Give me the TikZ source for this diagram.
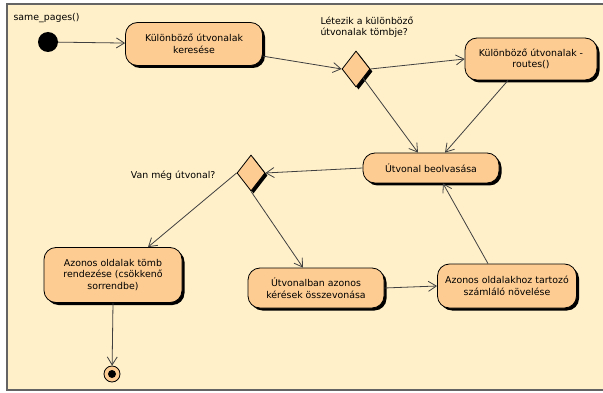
\documentclass[tikz,border=0pt]{standalone}
\usepackage{fontspec}
\setmainfont{DejaVu Sans}
\usetikzlibrary{positioning}
\usetikzlibrary{arrows.meta}
\usetikzlibrary{shapes.geometric}
\usetikzlibrary{shadows}
\definecolor{bg}{RGB}{255,240,201}
\definecolor{act}{RGB}{253,204,146}
\definecolor{frame}{RGB}{100,100,100}

\begin{document}
\begin{tikzpicture}[x=1pt, y=-1pt,
    every node/.style={font=\fontsize{9.4}{11.5}\selectfont},
    shade/.style={drop shadow={shadow xshift=2.5pt, shadow yshift=-2.5pt, fill=black, opacity=1}},
    action/.style={draw=black, line width=0.8pt, fill=act, rounded corners=12pt, align=center, inner sep=2pt, shade},
    decision/.style={diamond, draw=black, line width=0.8pt, fill=act, minimum width=28pt, minimum height=36pt, inner sep=0pt, shade},
    flow/.style={draw=black!75, line width=0.8pt, -{Straight Barb[length=8pt, width=10pt, line width=0.8pt]}}]
    \useasboundingbox (0,0) rectangle (603,393);
    \fill[white] (0,0) rectangle (603,393);
    \draw[frame, fill=bg, line width=1.2pt] (7,4) rectangle (612,390);

    \node[anchor=west] (title) at (10,18) {same\_pages()};
    \node[circle, fill=black, minimum size=20pt, inner sep=0pt] (init) at (48,42) {};

    \node[action, minimum width=137pt, minimum height=43pt] (search) at (194,44) {Különböző útvonalak\\keresése};
    \node[decision] (exists) at (356,69) {};
    \node[anchor=west, align=left] (existslabel) at (317,27) {Létezik a különböző\\útvonalak tömbje?};
    \node[action, minimum width=132pt, minimum height=42pt] (routes) at (531,59) {Különböző útvonalak -\\routes()};

    \node[action, minimum width=136pt, minimum height=30pt] (read) at (431,168) {Útvonal beolvasása};
    \node[decision] (more) at (251,173) {};
    \node[anchor=east] (morelabel) at (219,176) {Van még útvonal?};

    \node[action, minimum width=138pt, minimum height=55pt] (sort) at (113,275) {Azonos oldalak tömb\\rendezése (csökkenő\\sorrendbe)};
    \node[action, minimum width=136pt, minimum height=40pt] (merge) at (316,288) {Útvonalban azonos\\kérések összevonása};
    \node[action, minimum width=139pt, minimum height=44pt] (count) at (507,286) {Azonos oldalakhoz tartozó\\számláló növelése};

    \node[circle, draw=black, line width=0.8pt, fill=act, minimum size=16pt, inner sep=0pt] (final) at (112,374) {};
    \fill[black] (final) circle (4pt);

    % transitions
    \draw[flow] (init) -- (search);
    \draw[flow] (search.-10) -- (exists.west);
    \draw[flow] (exists.east) -- (routes.west);
    \draw[flow] (exists.south east) -- ([xshift=-13pt]read.north);
    \draw[flow] ([xshift=-23pt]routes.south) -- ([xshift=14pt]read.north);
    \draw[flow] (read.west) -- (more.east);
    \draw[flow] (more.west) -- ([xshift=35pt]sort.north);
    \draw[flow] (more.south) -- ([xshift=-13pt]merge.north);
    \draw[flow] (sort.south) -- (final);
    \draw[flow] (merge.east) -- (count.west);
    \draw[flow] ([xshift=-19pt]count.north) -- ([xshift=12pt]read.south);
\end{tikzpicture}
\end{document}
